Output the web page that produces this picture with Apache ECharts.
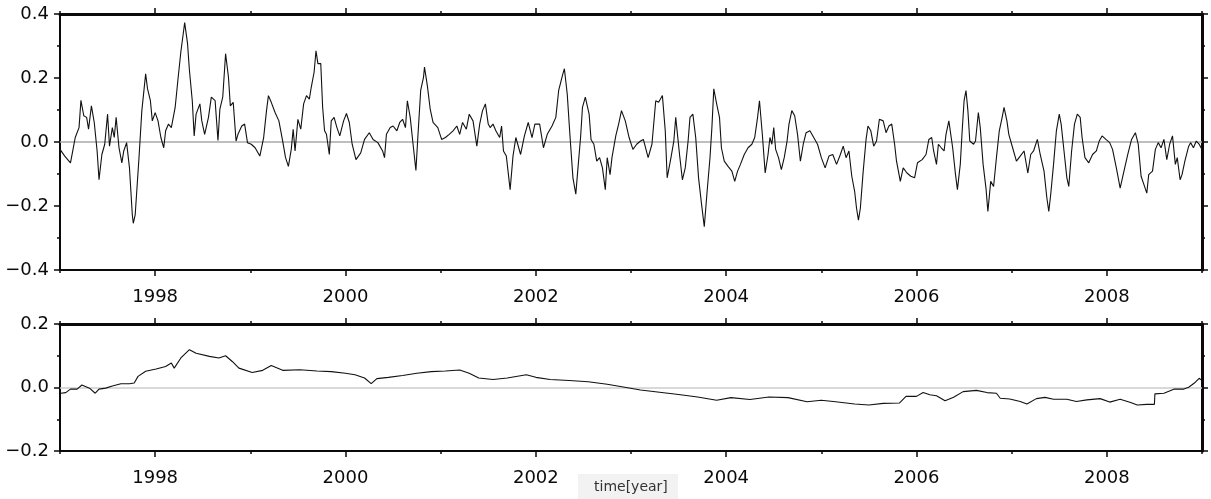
<!DOCTYPE html>
<html>
<head>
<meta charset="utf-8">
<script src="https://cdn.jsdelivr.net/npm/echarts@6/dist/echarts.min.js"></script>
<style>
  html, body { margin: 0; padding: 0; background: #ffffff; }
  #chart { width: 1211px; height: 499px; }
</style>
</head>
<body>
<div id="chart"></div>
<script>
// Time span of both panels (decimal years)
const X_MIN = 1997;
const X_MAX = 2009;

// Tick positions
const yearLabels = [1998, 2000, 2002, 2004, 2006, 2008];
const yearMinor = [1997, 1999, 2001, 2003, 2005, 2007, 2009];
const topYMajor = [-0.4, -0.2, 0.0, 0.2, 0.4];
const topYMinor = [-0.3, -0.1, 0.1, 0.3];
const botYMajor = [-0.2, 0.0, 0.2];
const botYMinor = [-0.1, 0.1];

// Upper panel: short-period signal
const topYears = [
  1997.00, 1997.05, 1997.11, 1997.13, 1997.16, 1997.20, 1997.22, 1997.25, 1997.28, 1997.30,
  1997.33, 1997.36, 1997.39, 1997.41, 1997.44, 1997.47, 1997.50, 1997.52, 1997.55, 1997.57,
  1997.59, 1997.62, 1997.65, 1997.67, 1997.70, 1997.73, 1997.76, 1997.77, 1997.79, 1997.83,
  1997.86, 1997.90, 1997.92, 1997.95, 1997.97, 1998.00, 1998.03, 1998.06, 1998.09, 1998.11,
  1998.14, 1998.17, 1998.21, 1998.24, 1998.27, 1998.30, 1998.31, 1998.34, 1998.36, 1998.39,
  1998.41, 1998.43, 1998.47, 1998.49, 1998.52, 1998.56, 1998.59, 1998.63, 1998.66, 1998.68,
  1998.71, 1998.74, 1998.77, 1998.79, 1998.82, 1998.85, 1998.87, 1998.91, 1998.94, 1998.97,
  1999.01, 1999.05, 1999.10, 1999.14, 1999.17, 1999.19, 1999.22, 1999.26, 1999.30, 1999.34,
  1999.37, 1999.40, 1999.43, 1999.45, 1999.47, 1999.50, 1999.53, 1999.56, 1999.59, 1999.62,
  1999.64, 1999.67, 1999.69, 1999.71, 1999.74, 1999.76, 1999.78, 1999.80, 1999.83, 1999.85,
  1999.88, 1999.91, 1999.94, 1999.98, 2000.01, 2000.04, 2000.07, 2000.11, 2000.16, 2000.20,
  2000.25, 2000.29, 2000.34, 2000.39, 2000.41, 2000.43, 2000.47, 2000.50, 2000.54, 2000.57,
  2000.60, 2000.63, 2000.65, 2000.68, 2000.71, 2000.74, 2000.76, 2000.79, 2000.82, 2000.83,
  2000.86, 2000.89, 2000.92, 2000.97, 2001.01, 2001.05, 2001.09, 2001.13, 2001.17, 2001.20,
  2001.23, 2001.27, 2001.30, 2001.34, 2001.38, 2001.41, 2001.44, 2001.47, 2001.50, 2001.52,
  2001.55, 2001.58, 2001.62, 2001.64, 2001.66, 2001.69, 2001.73, 2001.76, 2001.79, 2001.81,
  2001.84, 2001.88, 2001.92, 2001.96, 2001.99, 2002.04, 2002.08, 2002.12, 2002.17, 2002.21,
  2002.24, 2002.28, 2002.30, 2002.33, 2002.36, 2002.39, 2002.42, 2002.44, 2002.47, 2002.49,
  2002.52, 2002.56, 2002.58, 2002.61, 2002.64, 2002.67, 2002.70, 2002.73, 2002.75, 2002.78,
  2002.80, 2002.84, 2002.87, 2002.90, 2002.94, 2002.98,
  2003.02, 2003.06, 2003.10, 2003.13, 2003.18, 2003.22, 2003.26, 2003.29, 2003.33, 2003.36,
  2003.38, 2003.42, 2003.45, 2003.47, 2003.51, 2003.54, 2003.57, 2003.60, 2003.62, 2003.65,
  2003.68, 2003.71, 2003.74, 2003.77, 2003.80, 2003.83, 2003.85, 2003.87, 2003.90, 2003.93,
  2003.95, 2003.98, 2004.02, 2004.06, 2004.09, 2004.12, 2004.15, 2004.19, 2004.23, 2004.27,
  2004.30, 2004.33, 2004.35, 2004.38, 2004.41, 2004.44, 2004.46, 2004.48, 2004.50, 2004.52,
  2004.55, 2004.58, 2004.61, 2004.64, 2004.66, 2004.69, 2004.72, 2004.75, 2004.78, 2004.81,
  2004.84, 2004.88, 2004.92, 2004.96, 2005.00, 2005.04, 2005.08, 2005.12, 2005.16, 2005.20,
  2005.23, 2005.26, 2005.29, 2005.32, 2005.35, 2005.37, 2005.39, 2005.41, 2005.44, 2005.47,
  2005.49, 2005.52, 2005.55, 2005.58, 2005.61, 2005.65, 2005.68, 2005.71, 2005.74, 2005.77,
  2005.79, 2005.83, 2005.86, 2005.90, 2005.94, 2005.98, 2006.01, 2006.06, 2006.10, 2006.13,
  2006.16, 2006.18, 2006.21, 2006.23, 2006.26, 2006.29, 2006.31, 2006.34, 2006.36, 2006.38,
  2006.41, 2006.43, 2006.46, 2006.48, 2006.50, 2006.52, 2006.54, 2006.56, 2006.60, 2006.62,
  2006.65, 2006.67, 2006.70, 2006.73, 2006.75, 2006.78, 2006.81, 2006.84, 2006.87, 2006.90,
  2006.92, 2006.95, 2006.97, 2007.01, 2007.05, 2007.09, 2007.13, 2007.17, 2007.20, 2007.23,
  2007.27, 2007.30, 2007.34, 2007.37, 2007.39, 2007.41, 2007.44, 2007.47, 2007.50, 2007.52,
  2007.55, 2007.58, 2007.60, 2007.63, 2007.66, 2007.69, 2007.72, 2007.74, 2007.77, 2007.81,
  2007.85, 2007.89, 2007.92, 2007.95, 2007.99, 2008.03, 2008.06, 2008.10, 2008.14, 2008.18,
  2008.22, 2008.26, 2008.30, 2008.33, 2008.36, 2008.39, 2008.42, 2008.44, 2008.48, 2008.51,
  2008.54, 2008.57, 2008.60, 2008.63, 2008.66, 2008.69, 2008.72, 2008.74, 2008.77, 2008.79,
  2008.82, 2008.86, 2008.88, 2008.91, 2008.94, 2008.97, 2009.00
];
const topValues = [
  -0.023, -0.044, -0.065, -0.034, 0.014, 0.045, 0.130, 0.082, 0.077, 0.040,
  0.113, 0.061, -0.028, -0.118, -0.039, -0.007, 0.087, -0.013, 0.045, 0.014,
  0.077, -0.018, -0.065, -0.028, -0.002, -0.081, -0.228, -0.254, -0.228, -0.049,
  0.098, 0.213, 0.166, 0.129, 0.066, 0.092, 0.066, 0.014, -0.018, 0.035,
  0.056, 0.045, 0.108, 0.197, 0.282, 0.350, 0.373, 0.308, 0.224, 0.129,
  0.019, 0.087, 0.119, 0.066, 0.024, 0.077, 0.140, 0.129, 0.005, 0.103,
  0.140, 0.276, 0.203, 0.113, 0.124, 0.003, 0.024, 0.050, 0.056, -0.002,
  -0.007, -0.018, -0.044, 0.014, 0.098, 0.145, 0.124, 0.092, 0.066, 0.003,
  -0.049, -0.076, -0.023, 0.040, -0.028, 0.071, 0.040, 0.119, 0.145, 0.134,
  0.171, 0.218, 0.285, 0.245, 0.245, 0.108, 0.035, 0.024, -0.039, 0.066,
  0.077, 0.045, 0.019, 0.066, 0.089, 0.061, -0.007, -0.055, -0.034, 0.008,
  0.029, 0.008, -0.002, -0.028, -0.049, 0.024, 0.045, 0.050, 0.035, 0.061,
  0.071, 0.045, 0.129, 0.077, -0.007, -0.089, 0.014, 0.161, 0.203, 0.234,
  0.176, 0.103, 0.061, 0.045, 0.008, 0.014, 0.024, 0.035, 0.050, 0.024,
  0.061, 0.040, 0.087, 0.066, -0.013, 0.056, 0.098, 0.119, 0.056, 0.045,
  0.056, 0.035, 0.014, 0.050, -0.028, -0.044, -0.149, -0.044, 0.014, 0.019,
  -0.039, 0.019, 0.061, 0.014, 0.056, 0.056, -0.018, 0.024, 0.050, 0.077,
  0.161, 0.208, 0.229, 0.150, 0.014, -0.112, -0.163, -0.091, 0.014, 0.108,
  0.140, 0.087, 0.008, -0.007, -0.060, -0.049, -0.081, -0.149, -0.049, -0.102,
  -0.049, 0.019, 0.056, 0.098, 0.066, 0.014,
  -0.023, -0.007, 0.003, 0.008, -0.049, -0.007, 0.129, 0.124, 0.145, 0.035,
  -0.112, -0.049, 0.003, 0.077, -0.039, -0.118, -0.081, 0.003, 0.077, 0.087,
  0.014, -0.112, -0.191, -0.265, -0.154, -0.049, 0.045, 0.166, 0.119, 0.077,
  -0.018, -0.060, -0.076, -0.091, -0.123, -0.091, -0.070, -0.039, -0.018, -0.007,
  0.014, 0.077, 0.129, 0.024, -0.097, -0.039, 0.014, -0.007, 0.045, -0.023,
  -0.049, -0.086, -0.049, 0.003, 0.056, 0.098, 0.082, 0.024, -0.060, -0.007,
  0.029, 0.035, 0.014, -0.007, -0.049, -0.081, -0.044, -0.039, -0.070, -0.039,
  -0.013, -0.049, -0.028, -0.107, -0.154, -0.207, -0.244, -0.207, -0.091, 0.008,
  0.050, 0.035, -0.013, 0.003, 0.071, 0.066, 0.029, 0.050, 0.056, -0.007,
  -0.060, -0.123, -0.081, -0.097, -0.107, -0.112, -0.065, -0.055, -0.039, 0.008,
  0.014, -0.028, -0.070, -0.007, -0.018, -0.028, 0.024, 0.066, 0.071, -0.018,
  -0.102, -0.149, -0.070, 0.035, 0.129, 0.161, 0.098, 0.003, -0.007, 0.003,
  0.092, 0.045, -0.070, -0.144, -0.217, -0.123, -0.139, -0.049, 0.035, 0.077,
  0.108, 0.066, 0.024, -0.018, -0.060, -0.044, -0.028, -0.097, -0.039, -0.028,
  0.008, -0.039, -0.091, -0.175, -0.217, -0.165, -0.070, 0.035, 0.087, 0.056,
  -0.028, -0.112, -0.139, -0.028, 0.056, 0.087, 0.077, 0.014, -0.049, -0.065,
  -0.039, -0.028, 0.003, 0.019, 0.008, -0.002, -0.023, -0.081, -0.144, -0.091,
  -0.039, 0.008, 0.029, -0.007, -0.107, -0.133, -0.160, -0.102, -0.091, -0.023,
  -0.002, -0.018, 0.008, -0.055, -0.007, 0.019, -0.070, -0.049, -0.118, -0.102,
  -0.060, -0.013, -0.002, -0.018, 0.003, -0.007, -0.023
];

// Lower panel: long-period drift
const bottomYears = [
  1997.01, 1997.06, 1997.11, 1997.18, 1997.23, 1997.31, 1997.37, 1997.41, 1997.48, 1997.55,
  1997.64, 1997.73, 1997.78, 1997.82, 1997.90, 1998.01, 1998.11, 1998.17, 1998.20, 1998.27,
  1998.36, 1998.43, 1998.57, 1998.67, 1998.74, 1998.81, 1998.88, 1999.02, 1999.13, 1999.22,
  1999.27, 1999.34, 1999.52, 1999.70, 1999.85, 2000.00, 2000.10, 2000.20, 2000.27, 2000.33,
  2000.45, 2000.60, 2000.75, 2000.90, 2001.05, 2001.20, 2001.30, 2001.40, 2001.55, 2001.70,
  2001.90, 2002.00, 2002.15, 2002.35, 2002.55, 2002.75, 2002.95, 2003.10, 2003.30, 2003.50,
  2003.70, 2003.90, 2004.05, 2004.25, 2004.45, 2004.65, 2004.85, 2005.00, 2005.15, 2005.35,
  2005.50, 2005.65, 2005.82, 2005.89, 2006.00, 2006.07, 2006.14, 2006.21, 2006.30, 2006.39,
  2006.49, 2006.63, 2006.74, 2006.84, 2006.88, 2006.98, 2007.09, 2007.16, 2007.26, 2007.35,
  2007.44, 2007.58, 2007.68, 2007.79, 2007.93, 2008.03, 2008.14, 2008.25, 2008.32, 2008.42,
  2008.50, 2008.505, 2008.60, 2008.71, 2008.81, 2008.86, 2008.92, 2008.97, 2008.99
];
const bottomValues = [
  -0.018, -0.016, -0.005, -0.005, 0.008, -0.002, -0.018, -0.005, -0.002, 0.005,
  0.012, 0.012, 0.014, 0.035, 0.051, 0.058, 0.066, 0.077, 0.061, 0.093,
  0.119, 0.108, 0.098, 0.093, 0.100, 0.082, 0.061, 0.047, 0.054, 0.069,
  0.063, 0.054, 0.056, 0.052, 0.050, 0.045, 0.040, 0.030, 0.012, 0.028,
  0.032, 0.038, 0.045, 0.050, 0.052, 0.055, 0.045, 0.030, 0.025, 0.030,
  0.040, 0.032, 0.025, 0.022, 0.018, 0.010, 0.000, -0.008, -0.015, -0.022,
  -0.030, -0.040, -0.032, -0.038, -0.030, -0.032, -0.045, -0.040, -0.045, -0.052,
  -0.055, -0.050, -0.049, -0.028, -0.028, -0.016, -0.023, -0.026, -0.042, -0.031,
  -0.013, -0.009, -0.016, -0.018, -0.034, -0.036, -0.044, -0.052, -0.035, -0.031,
  -0.037, -0.037, -0.044, -0.039, -0.035, -0.046, -0.037, -0.047, -0.055, -0.053,
  -0.053, -0.020, -0.018, -0.005, -0.005, 0.001, 0.014, 0.029, 0.024
];

const pairs = (xs, ys) => xs.map((x, i) => [x, ys[i]]);

const INK = '#0a0a0a';
const LABEL_FONT = { fontFamily: 'DejaVu Sans', fontSize: 18, color: INK };

function fmtY(v) {
  const s = Math.abs(v) < 1e-9 ? '0.0' : v.toFixed(1);
  return s.replace('-', '\u2212');
}

function line(show, width) {
  return { show: show, onZero: false, lineStyle: { color: INK, width: width } };
}
function ticks(values, len) {
  return { show: true, inside: false, customValues: values, length: len, lineStyle: { color: INK, width: 1.5 } };
}

// Four x axes per panel: bottom major/minor ticks, top major/minor ticks
function xAxesFor(grid) {
  const base = { gridIndex: grid, type: 'value', min: X_MIN, max: X_MAX, splitLine: { show: false } };
  return [
    Object.assign({}, base, {
      position: 'bottom',
      axisLine: line(true, 2),
      axisTick: ticks(yearLabels, 6),
      axisLabel: Object.assign({ show: true, customValues: yearLabels, margin: 18, formatter: v => String(Math.round(v)) }, LABEL_FONT)
    }),
    Object.assign({}, base, {
      position: 'bottom',
      axisLine: line(false, 1),
      axisTick: ticks(yearMinor, 3),
      axisLabel: { show: false }
    }),
    Object.assign({}, base, {
      position: 'top',
      axisLine: line(true, 3),
      axisTick: ticks(yearLabels, 6),
      axisLabel: { show: false }
    }),
    Object.assign({}, base, {
      position: 'top',
      axisLine: line(false, 1),
      axisTick: ticks(yearMinor, 3),
      axisLabel: { show: false }
    })
  ];
}

// Four y axes per panel: left major/minor ticks, right major/minor ticks
function yAxesFor(grid, lo, hi, major, minor) {
  const base = { gridIndex: grid, type: 'value', min: lo, max: hi, splitLine: { show: false } };
  return [
    Object.assign({}, base, {
      position: 'left',
      axisLine: line(true, 2),
      axisTick: ticks(major, 6),
      axisLabel: Object.assign({ show: true, customValues: major, margin: 11, formatter: fmtY }, LABEL_FONT)
    }),
    Object.assign({}, base, {
      position: 'left',
      axisLine: line(false, 1),
      axisTick: ticks(minor, 3),
      axisLabel: { show: false }
    }),
    Object.assign({}, base, {
      position: 'right',
      axisLine: line(true, 3),
      axisTick: ticks(major, 6),
      axisLabel: { show: false }
    }),
    Object.assign({}, base, {
      position: 'right',
      axisLine: line(false, 1),
      axisTick: ticks(minor, 3),
      axisLabel: { show: false }
    })
  ];
}

function traceSeries(xIdx, yIdx, data, zeroColor) {
  return {
    type: 'line',
    xAxisIndex: xIdx,
    yAxisIndex: yIdx,
    data: data,
    showSymbol: false,
    symbol: 'none',
    lineStyle: { color: '#111111', width: 1.1 },
    z: 3,
    markLine: {
      silent: true,
      symbol: 'none',
      label: { show: false },
      lineStyle: { color: zeroColor, width: 1.5, type: 'solid' },
      data: [{ yAxis: 0 }],
      z: 1
    }
  };
}

const chart = echarts.init(document.getElementById('chart'), null, { renderer: 'canvas' });
chart.setOption({
  animation: false,
  backgroundColor: '#ffffff',
  grid: [
    { left: 60, right: 9, top: 14, height: 256 },
    { left: 60, right: 9, top: 324, height: 127 }
  ],
  xAxis: [].concat(xAxesFor(0), xAxesFor(1)),
  yAxis: [].concat(
    yAxesFor(0, -0.4, 0.4, topYMajor, topYMinor),
    yAxesFor(1, -0.2, 0.2, botYMajor, botYMinor)
  ),
  series: [
    traceSeries(0, 0, pairs(topYears, topValues), '#a8a8a8'),
    traceSeries(4, 4, pairs(bottomYears, bottomValues), '#cccccc')
  ],
  graphic: [
    {
      type: 'rect',
      left: 578, top: 474,
      shape: { width: 100, height: 25 },
      style: { fill: '#f2f2f2' },
      silent: true
    },
    {
      type: 'text',
      left: 594, top: 480,
      style: { text: 'time[year]', font: '14px "DejaVu Sans"', fill: '#333333' },
      silent: true
    }
  ]
});
</script>
</body>
</html>
